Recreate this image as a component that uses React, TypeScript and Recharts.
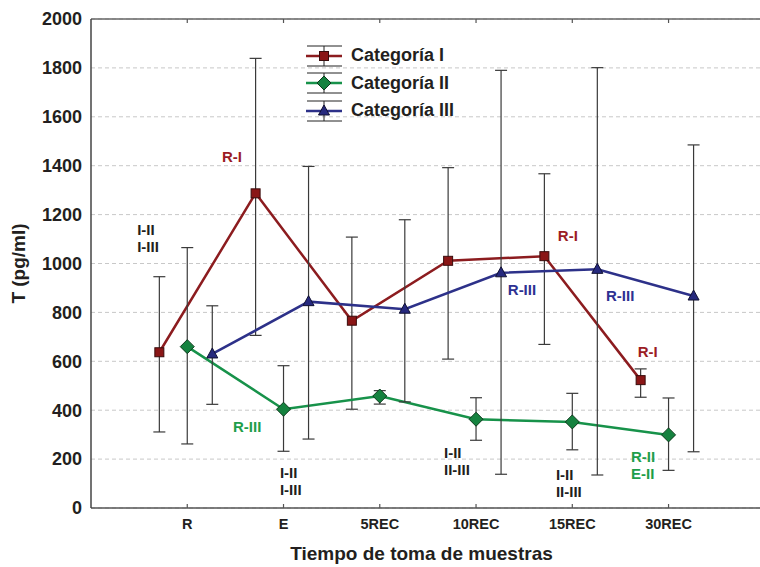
import {
  CartesianGrid,
  ErrorBar,
  Legend,
  Line,
  LineChart,
  ReferenceDot,
  XAxis,
  YAxis,
} from "recharts";

const categories = ["R", "E", "5REC", "10REC", "15REC", "30REC"];
const seriesNames = ["Categoría I", "Categoría II", "Categoría III"];

// means and error-bar ends (pg/ml)
const cat1Mean = [637, 1287, 766, 1011, 1030, 523];
const cat1Low = [311, 706, 404, 609, 669, 453];
const cat1High = [946, 1839, 1108, 1392, 1367, 569];

const cat2Mean = [660, 404, 458, 363, 352, 299];
const cat2Low = [262, 232, 425, 277, 238, 154];
const cat2High = [1065, 582, 480, 451, 469, 450];

const cat3Mean = [630, 844, 813, 962, 976, 867];
const cat3Low = [424, 282, 434, 138, 135, 230];
const cat3High = [827, 1397, 1179, 1790, 1801, 1485];

const yTicks = [0, 200, 400, 600, 800, 1000, 1200, 1400, 1600, 1800, 2000];

// significance notes: position in axis units (x = category index), text lines
const notes = [
  { x: 1.36, y: 1436, lines: ["R-I"], color: "#9b1c24" },
  { x: 0.48, y: 1137, lines: ["I-II", "I-III"], color: "#231f20" },
  { x: 1.475, y: 331, lines: ["R-III"], color: "#1e9e4a" },
  { x: 1.963, y: 143, lines: ["I-II", "I-III"], color: "#231f20" },
  { x: 4.33, y: 892, lines: ["R-III"], color: "#2e3192" },
  { x: 5.35, y: 867, lines: ["R-III"], color: "#2e3192" },
  { x: 4.85, y: 1112, lines: ["R-I"], color: "#9b1c24" },
  { x: 5.68, y: 638, lines: ["R-I"], color: "#9b1c24" },
  { x: 3.667, y: 225, lines: ["I-II", "II-III"], color: "#231f20" },
  { x: 4.83, y: 135, lines: ["I-II", "II-III"], color: "#231f20" },
  { x: 5.61, y: 209, lines: ["R-II", "E-II"], color: "#1e9e4a" },
];

const FONT = '"Liberation Sans", Arial, Helvetica, sans-serif';
const INK = "#231f20";

type Shape = "square" | "diamond" | "triangle";

function Marker({ cx, cy, shape, fill }: { cx: number; cy: number; shape: Shape; fill: string }) {
  if (shape === "square") {
    return <rect x={cx - 4.5} y={cy - 4.5} width={9} height={9} fill={fill} stroke="#3a0c0c" strokeWidth={1} />;
  }
  if (shape === "diamond") {
    return (
      <polygon
        points={`${cx},${cy - 7} ${cx + 7},${cy} ${cx},${cy + 7} ${cx - 7},${cy}`}
        fill={fill}
        stroke="#0d3b1c"
        strokeWidth={1}
      />
    );
  }
  return (
    <polygon
      points={`${cx},${cy - 6} ${cx + 5.5},${cy + 4} ${cx - 5.5},${cy + 4}`}
      fill={fill}
      stroke="#111133"
      strokeWidth={1}
    />
  );
}

function build(mean: number[], low: number[], high: number[], offset: number) {
  return mean.map((m, i) => ({
    x: i + 1 + offset,
    y: m,
    err: [m - low[i], high[i] - m],
  }));
}

const series = [
  { name: seriesNames[0], color: "#8c1c1f", fill: "#8a1616", shape: "square" as Shape, data: build(cat1Mean, cat1Low, cat1High, -0.29) },
  { name: seriesNames[1], color: "#17924a", fill: "#15823f", shape: "diamond" as Shape, data: build(cat2Mean, cat2Low, cat2High, 0) },
  { name: seriesNames[2], color: "#2d3189", fill: "#26297e", shape: "triangle" as Shape, data: build(cat3Mean, cat3Low, cat3High, 0.26) },
];

function BottomTick({ x, y, payload }: any) {
  return (
    <g>
      <line x1={x} x2={x} y1={y} y2={y - 4} stroke="#555" strokeWidth={1.2} />
      <text x={x} y={y + 21} textAnchor="middle" fill={INK} fontFamily={FONT} fontWeight={700} fontSize={14.5}>
        {categories[payload.value - 1]}
      </text>
    </g>
  );
}

function TopTick({ x, y }: any) {
  return <line x1={x} x2={x} y1={y} y2={y + 4} stroke="#555" strokeWidth={1.2} />;
}

function XTitle(props: any) {
  const vb = props.viewBox ?? { x: 91, y: 508, width: 669, height: 59 };
  return (
    <text
      x={vb.x + vb.width / 2 - 4}
      y={vb.y + 52}
      textAnchor="middle"
      fill={INK}
      fontFamily={FONT}
      fontWeight={700}
      fontSize={19}
    >
      Tiempo de toma de muestras
    </text>
  );
}

function YTitle(props: any) {
  const vb = props.viewBox ?? { x: 0, y: 19, width: 91, height: 489 };
  const cx = vb.x + 18;
  const cy = vb.y + vb.height / 2;
  return (
    <text
      x={cx}
      y={cy}
      transform={`rotate(-90, ${cx}, ${cy})`}
      textAnchor="middle"
      dominantBaseline="central"
      fill={INK}
      fontFamily={FONT}
      fontWeight={700}
      fontSize={19}
    >
      T (pg/ml)
    </text>
  );
}

function LegendBox() {
  return (
    <div style={{ fontFamily: FONT, fontWeight: 700, fontSize: 18, color: INK }}>
      {series.map((s) => (
        <div key={s.name} style={{ display: "flex", alignItems: "center", height: 27.5 }}>
          <svg width={45} height={26} style={{ display: "block" }}>
            <line x1={1} x2={36} y1={3} y2={3} stroke="#222" strokeWidth={1} />
            <line x1={1} x2={36} y1={23} y2={23} stroke="#222" strokeWidth={1} />
            <line x1={18} x2={18} y1={3} y2={23} stroke="#222" strokeWidth={1} />
            <line x1={0} x2={36} y1={13} y2={13} stroke={s.color} strokeWidth={2.5} />
            <Marker cx={18} cy={13} shape={s.shape} fill={s.fill} />
          </svg>
          <span>{s.name}</span>
        </div>
      ))}
    </div>
  );
}

function NoteText({ cx, cy, lines, color }: any) {
  return (
    <text x={cx} y={cy + 5} fill={color} fontFamily={FONT} fontWeight={700} fontSize={15}>
      {lines.map((l: string, i: number) => (
        <tspan key={i} x={cx} dy={i === 0 ? 0 : 17}>
          {l}
        </tspan>
      ))}
    </text>
  );
}

export default function App() {
  return (
    <div style={{ position: "absolute", left: 0, top: 0, width: 760, height: 567, background: "#fff" }}>
      <LineChart width={760} height={567} margin={{ top: 14, right: 0, bottom: 0, left: 0 }}>
        <CartesianGrid vertical={false} stroke="#c8c8c8" strokeDasharray="4 3" />
        <XAxis
          dataKey="x"
          type="number"
          domain={[0, 6.95]}
          ticks={[1, 2, 3, 4, 5, 6]}
          allowDataOverflow
          height={59}
          tickSize={0}
          tickMargin={0}
          tickLine={false}
          axisLine={{ stroke: "#555", strokeWidth: 1.5 }}
          tick={<BottomTick />}
          label={<XTitle />}
        />
        <XAxis
          xAxisId="top"
          orientation="top"
          dataKey="x"
          type="number"
          domain={[0, 6.95]}
          ticks={[1, 2, 3, 4, 5, 6]}
          allowDataOverflow
          height={5}
          tickSize={0}
          tickMargin={0}
          tickLine={false}
          axisLine={{ stroke: "#666", strokeWidth: 1.5 }}
          tick={<TopTick />}
        />
        <YAxis
          type="number"
          domain={[0, 2000]}
          ticks={yTicks}
          width={91}
          tickSize={0}
          tickMargin={9}
          tickLine={false}
          axisLine={{ stroke: "#444", strokeWidth: 1.5 }}
          tick={{ fill: INK, fontSize: 18, fontWeight: 700, fontFamily: FONT }}
          label={<YTitle />}
        />
        <Legend
          layout="vertical"
          align="center"
          verticalAlign="middle"
          content={() => <LegendBox />}
          wrapperStyle={{ left: 306, top: 42, width: "auto" }}
        />
        {series.map((s) => (
          <Line
            key={s.name}
            name={s.name}
            data={s.data}
            dataKey="y"
            type="linear"
            stroke={s.color}
            strokeWidth={2.5}
            dot={(p: any) => <Marker key={p.index} cx={p.cx} cy={p.cy} shape={s.shape} fill={s.fill} />}
            activeDot={false}
            isAnimationActive={false}
          >
            <ErrorBar dataKey="err" direction="y" width={6} stroke="#3a3a3a" strokeWidth={1.2} isAnimationActive={false} />
          </Line>
        ))}
        {notes.map((n, i) => (
          <ReferenceDot
            key={i}
            x={n.x}
            y={n.y}
            r={0}
            ifOverflow="visible"
            shape={(p: any) => <NoteText cx={p.cx} cy={p.cy} lines={n.lines} color={n.color} />}
          />
        ))}
      </LineChart>
    </div>
  );
}
